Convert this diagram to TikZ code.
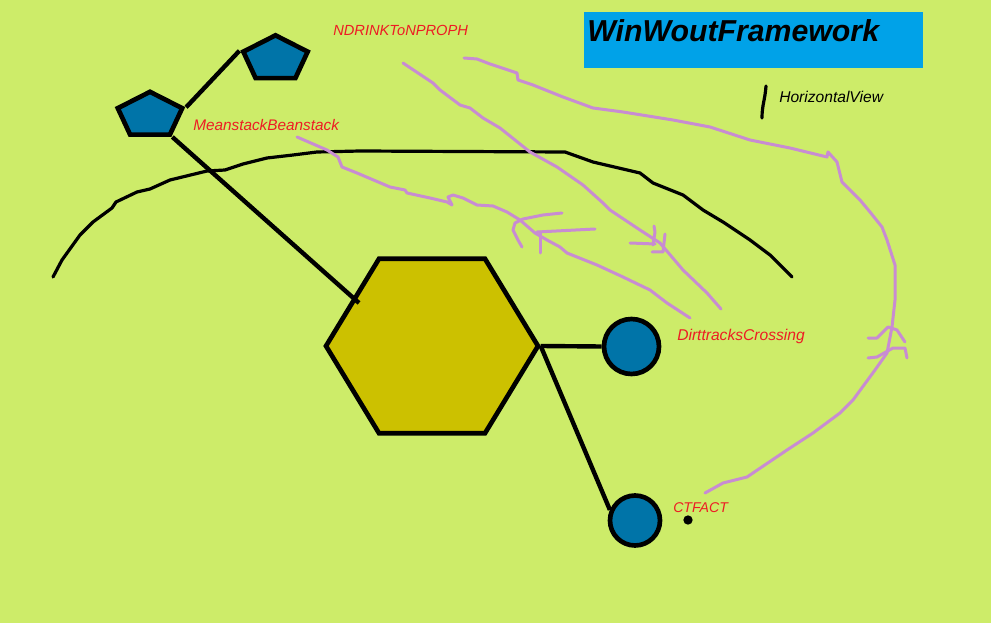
\documentclass[tikz,border=0pt]{standalone}
\usepackage{fontspec}
\setmainfont{Liberation Sans}
\usetikzlibrary{shapes.geometric}
\definecolor{bgc}{RGB}{205,236,105}
\definecolor{bluefill}{RGB}{0,116,168}
\definecolor{hexfill}{RGB}{204,193,0}
\definecolor{titlefill}{RGB}{0,162,232}
\definecolor{scribble}{RGB}{200,140,210}
\definecolor{lblred}{RGB}{237,28,36}
\begin{document}
\begin{tikzpicture}[x=0.75pt, y=-0.75pt,
    pent/.style={regular polygon, regular polygon sides=5, draw=black, line width=3.5pt,
        fill=bluefill, minimum size=35.5pt, inner sep=0pt},
    hexa/.style={regular polygon, regular polygon sides=6, draw=black, line width=3.5pt,
        fill=hexfill, minimum size=159pt, inner sep=0pt},
    ball/.style={circle, draw=black, line width=3.5pt, fill=bluefill, inner sep=0pt},
    link/.style={black, line width=3.3pt},
    lbl/.style={font=\fontsize{11}{13}\selectfont\itshape, text=lblred, inner sep=0pt, anchor=base west},
    pen/.style={scribble, line width=2.25pt, line cap=round, line join=round},
    stroke/.style={black, line width=2.4pt, line cap=round, line join=round}]
            \useasboundingbox (0,0) rectangle (991,623);
            \fill[bgc] (0,0) rectangle (991,623);

            \node[fill=titlefill, minimum width=254.25pt, minimum height=42pt, inner sep=0pt,
                anchor=north west] (titlebox) at (584,12) {};
            \node[anchor=base west, inner sep=0pt, font=\fontsize{22.7}{26}\selectfont\bfseries\itshape]
                (title) at (587,42) {WinWoutFramework};

            \draw[stroke] (766,86) .. controls (765,100) and (762,105) .. (762,118);
            \node[lbl, text=black, font=\fontsize{11.7}{13}\selectfont\itshape] (horizlbl) at (779,103) {HorizontalView};

            \draw[stroke] (53,277) -- (62,260) -- (80,235) -- (93,222) -- (112,208) -- (116,202)
                -- (137,192) -- (150,189) -- (170,180) -- (207,171) -- (225,170) -- (243,164)
                -- (267,158) -- (293,155) -- (317,152) -- (360,151) -- (565,152) -- (593,162)
                -- (640,173) -- (653,183) -- (683,195) -- (703,210) -- (723,222) -- (750,240)
                -- (770,255) -- (792,277);

            \begin{scope}[shift={(275.5,59)}, xscale=1.43]
                \node[pent, transform shape] (ndrink) at (0,0) {};
            \end{scope}
            \begin{scope}[shift={(150,115.5)}, xscale=1.43]
                \node[pent, transform shape] (meanstack) at (0,0) {};
            \end{scope}
            \begin{scope}[shift={(432,346)}, yscale=0.95]
                \node[hexa, transform shape] (hub) at (0,0) {};
            \end{scope}
            \node[ball, minimum size=41.25pt] (dirt) at (631.5,346.5) {};
            \node[ball, minimum size=37.5pt] (ctfact) at (635,520.5) {};
            \node[circle, fill=black, minimum size=7pt, inner sep=0pt] (ctdot) at (688,520) {};

            \coordinate (hexhit) at (359,303);
            \draw[link] (meanstack.corner 5) -- (ndrink.corner 2);
            \draw[link] (meanstack.corner 4) -- (hexhit);
            \draw[link] (hub.east) -- (dirt.west);
            \draw[link] (hub.east) -- (ctfact.157);

            \node[lbl] (ndrinklbl) at (333,36) {NDRINKToNPROPH};
            \node[lbl, font=\fontsize{11.5}{13}\selectfont\itshape] (meanlbl) at (193,131) {MeanstackBeanstack};
            \node[lbl, font=\fontsize{11.7}{13}\selectfont\itshape] (dirtlbl) at (677,340) {DirttracksCrossing};
            \node[lbl, font=\fontsize{10.6}{13}\selectfont\itshape] (ctlbl) at (673,512) {CTFACT};

            \draw[pen] (403,63) -- (433,83) -- (440,90) -- (460,105) -- (470,108) -- (483,118)
                -- (500,128) -- (530,152) -- (557,167) -- (583,185) -- (603,203) -- (610,210)
                -- (640,230) -- (660,243) -- (683,270) -- (707,293) -- (721,309);
            \draw[pen] (630,243) -- (655,244);
            \draw[pen] (654,226) -- (655,232) -- (653,245);
            \draw[pen] (665,234) -- (663,252) -- (652,252);

            \draw[pen] (464,58) -- (477,59) -- (490,64) -- (517,73) -- (518,80) -- (533,85)
                -- (563,97) -- (593,108) -- (623,112) -- (673,120) -- (710,127) -- (750,140)
                -- (790,148) -- (827,157) -- (828,152) -- (837,162) -- (842,182) -- (860,200)
                -- (870,212) -- (882,227) -- (887,240) -- (895,265) -- (895,300) -- (892,327)
                -- (887,353) -- (875,370) -- (853,400) -- (840,413) -- (813,433) -- (787,450)
                -- (747,477) -- (723,483) -- (705,493);
            \draw[pen] (868,338) -- (877,338) -- (888,327) -- (897,330) -- (905,342);
            \draw[pen] (868,358) -- (877,357) -- (893,348) -- (905,348) -- (907,358);

            \draw[pen] (297,137) -- (327,150) -- (338,157) -- (342,167) -- (357,173) -- (390,187)
                -- (405,190) -- (407,193) -- (430,198) -- (447,202) -- (452,205) -- (448,197)
                -- (453,195) -- (463,198) -- (477,205) -- (493,206) -- (507,212) -- (520,220)
                -- (535,233) -- (547,240) -- (560,247) -- (567,253) -- (597,265) -- (623,277)
                -- (650,290) -- (667,303) -- (690,318);
            \draw[pen] (562,213) -- (543,215) -- (523,219) -- (515,223) -- (513,230) -- (518,240)
                -- (522,247);
            \draw[pen] (537,232) -- (595,229);
            \draw[pen] (540,232) -- (540,253);
        \end{tikzpicture}
\end{document}
